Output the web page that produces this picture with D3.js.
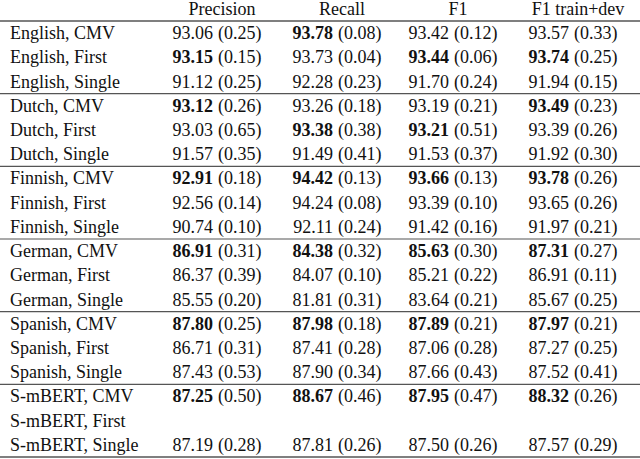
<!DOCTYPE html>
<html><head><meta charset="utf-8">
<script src="https://cdn.jsdelivr.net/npm/d3@7"></script>
<style>body{margin:0;background:#fff}</style>
</head><body><div id="chart"></div>
<script>
// ===== TABLE DATA =====
const columns = ['Precision', 'Recall', 'F1', 'F1 train+dev'];
const rowLabels = [
  'English, CMV', 'English, First', 'English, Single',
  'Dutch, CMV', 'Dutch, First', 'Dutch, Single',
  'Finnish, CMV', 'Finnish, First', 'Finnish, Single',
  'German, CMV', 'German, First', 'German, Single',
  'Spanish, CMV', 'Spanish, First', 'Spanish, Single',
  'S-mBERT, CMV', 'S-mBERT, First', 'S-mBERT, Single'
];
// [mean, std, bold] per column; null = empty cell
const precision = [[93.06,0.25,0],[93.15,0.15,1],[91.12,0.25,0],[93.12,0.26,1],[93.03,0.65,0],[91.57,0.35,0],
  [92.91,0.18,1],[92.56,0.14,0],[90.74,0.10,0],[86.91,0.31,1],[86.37,0.39,0],[85.55,0.20,0],
  [87.80,0.25,1],[86.71,0.31,0],[87.43,0.53,0],[87.25,0.50,1],null,[87.19,0.28,0]];
const recall = [[93.78,0.08,1],[93.73,0.04,0],[92.28,0.23,0],[93.26,0.18,0],[93.38,0.38,1],[91.49,0.41,0],
  [94.42,0.13,1],[94.24,0.08,0],[92.11,0.24,0],[84.38,0.32,1],[84.07,0.10,0],[81.81,0.31,0],
  [87.98,0.18,1],[87.41,0.28,0],[87.90,0.34,0],[88.67,0.46,1],null,[87.81,0.26,0]];
const f1 = [[93.42,0.12,0],[93.44,0.06,1],[91.70,0.24,0],[93.19,0.21,0],[93.21,0.51,1],[91.53,0.37,0],
  [93.66,0.13,1],[93.39,0.10,0],[91.42,0.16,0],[85.63,0.30,1],[85.21,0.22,0],[83.64,0.21,0],
  [87.89,0.21,1],[87.06,0.28,0],[87.66,0.43,0],[87.95,0.47,1],null,[87.50,0.26,0]];
const f1TrainDev = [[93.57,0.33,0],[93.74,0.25,1],[91.94,0.15,0],[93.49,0.23,1],[93.39,0.26,0],[91.92,0.30,0],
  [93.78,0.26,1],[93.65,0.26,0],[91.97,0.21,0],[87.31,0.27,1],[86.91,0.11,0],[85.67,0.25,0],
  [87.97,0.21,1],[87.27,0.25,0],[87.52,0.41,0],[88.32,0.26,1],null,[87.57,0.29,0]];
const series = [precision, recall, f1, f1TrainDev];

const W = 640, H = 459;
const svg = d3.select('#chart').append('svg').attr('width', W).attr('height', H)
  .attr('font-family', "'Liberation Serif', 'Times New Roman', serif")
  .attr('font-size', 18).attr('fill', '#111');

const y = d3.scaleBand().domain(d3.range(rowLabels.length)).range([21, 457]);
const colCenters = [222, 342, 458, 578];

// header
svg.selectAll('.hdr').data(columns).enter().append('text')
  .attr('x', (d, i) => colCenters[i]).attr('y', 15).attr('text-anchor', 'middle').text(d => d);

// rules
const rules = [0, 3, 6, 9, 12, 15, 18];
const ry = d => d === 18 ? y.range()[1] : y(d);
svg.selectAll('.rule').data(rules).enter().append('line')
  .attr('x1', 0).attr('x2', W).attr('y1', ry).attr('y2', ry)
  .attr('stroke', '#555').attr('stroke-width', d => (d === 0 || d === 18) ? 1.5 : 1.2);

// row labels
svg.selectAll('.lbl').data(rowLabels).enter().append('text')
  .attr('x', 10).attr('y', (d, i) => y(i) + y.bandwidth() / 2 + 6).text(d => d);

// cells
series.forEach((vals, c) => {
  const cx = colCenters[c];
  const g = svg.append('g');
  vals.forEach((v, i) => {
    if (!v) return;
    const ty = y(i) + y.bandwidth() / 2 + 6;
    g.append('text').attr('x', cx - 9).attr('y', ty).attr('text-anchor', 'end')
      .attr('font-weight', v[2] ? 'bold' : 'normal').text(v[0].toFixed(2));
    g.append('text').attr('x', cx - 4).attr('y', ty).text('(' + v[1].toFixed(2) + ')');
  });
});
</script></body></html>
